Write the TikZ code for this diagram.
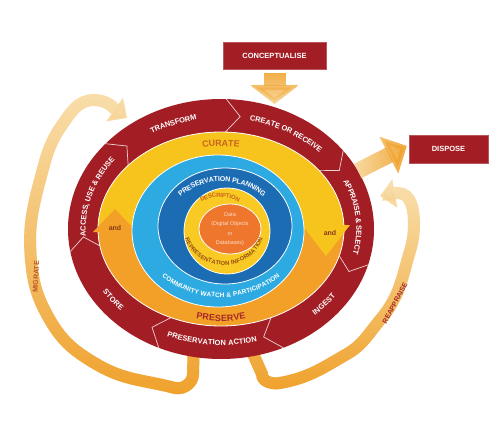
\documentclass[tikz,border=0pt]{standalone}
\usepackage{fontspec}
\setmainfont{Liberation Sans}
\usepackage{xcolor}
\usepackage{tikz}
\usetikzlibrary{arrows.meta, positioning, shapes.geometric, decorations.text, fadings}

\definecolor{dccred}{RGB}{163,30,36}
\definecolor{curateyellow}{RGB}{247,196,30}
\definecolor{preserveorange}{RGB}{242,160,40}
\definecolor{watchblue}{RGB}{45,170,225}
\definecolor{planblue}{RGB}{28,108,180}
\definecolor{descyellow}{RGB}{248,202,35}
\definecolor{dataorange}{RGB}{238,118,45}
\definecolor{paleflow}{RGB}{249,222,170}
\definecolor{flow}{RGB}{240,162,45}
\definecolor{curatetext}{RGB}{200,100,30}
\definecolor{preservetext}{RGB}{165,40,40}
\definecolor{andtext}{RGB}{140,55,25}
\definecolor{reprtext}{RGB}{150,75,20}
\definecolor{datatext}{RGB}{252,222,200}
\definecolor{migratetext}{RGB}{185,85,35}

\newcommand{\lblfont}{\fontsize{7.5}{9}\selectfont\bfseries}

\begin{document}
\begin{tikzpicture}[
    x=1pt, y=1pt,
    stagebox/.style={rectangle, fill=dccred, draw=dccred!75!white, line width=0.6pt, minimum width=103pt, minimum height=27pt, text=white, font=\lblfont},
    ringline/.style={draw=white, line width=0.8pt},
    chevron/.style={draw=white!80!dccred, line width=0.7pt},
    flowband/.style={line width=12pt, -{Triangle[width=28pt, length=15pt]}},
    blockarrow/.style={-{Triangle[width=48pt, length=19pt]}},
    ringlabel/.style={decorate, decoration={text along path, text align=center, raise=-2.7pt}},
    andlabel/.style={text=andtext, font=\fontsize{7}{8}\selectfont\bfseries, inner sep=0pt},
    looplabel/.style={font=\fontsize{7}{8}\selectfont\bfseries, inner sep=0pt},
  ]
    \fill[white] (0,0) rectangle (501,440);
    \useasboundingbox (0,0) rectangle (501,440);

    % Nodes
    \node[ellipse, minimum width=306pt, minimum height=260pt, inner sep=0pt, outer sep=0pt] (lifecycle) at (221,211) {};
    \node[stagebox] (conceptualise) at (274.5,384.5) {CONCEPTUALISE};
    \node[stagebox, minimum width=79pt, minimum height=28pt] (dispose) at (448.5,291) {DISPOSE};

    % Migrate and reappraise loops
    \draw[flowband, paleflow, postaction={draw, flow, path fading=north}]
      ([yshift=14pt]lifecycle.-102) -- (193,66) to[out=-90,in=-10] (175,52)
      to[out=165,in=-30] (98,75) to[out=150,in=-60] (50,120) to[out=120,in=-85] (31,180)
      to[out=95,in=-105] (40,260) to[out=75,in=-125] (62,315) to[out=55,in=180] (94,340)
      to[out=0,in=145] (127,322);
    \draw[flowband, paleflow, postaction={draw, flow, path fading=north}]
      ([yshift=14pt]lifecycle.-78) -- (262,66) to[out=-90,in=-170] (280,57)
      to[out=10,in=-150] (347,86) to[out=30,in=-130] (380,120) to[out=50,in=-105] (406,175)
      to[out=75,in=-90] (414,215) to[out=90,in=0] (398,247) to[out=180,in=10] (380,244);
    \node[looplabel, text=migratetext, rotate=87] (migratelbl) at (36,163) {MIGRATE};
    \node[looplabel, text=preservetext, rotate=62] (reappraiselbl) at (395,137) {REAPPRAISE};

    % Lifecycle ring
    \fill[dccred] (lifecycle.center) ellipse [x radius=153pt, y radius=130pt];

    \begin{scope}[shift={(lifecycle.center)}]
      \foreach \ang in {88,37,-16,-66,-114,-170,139}
        \draw[chevron] (\ang:153pt and 130pt) -- ({\ang-6}:138pt and 113.5pt) -- (\ang:123pt and 97pt);

      % curate / preserve ring
      \fill[curateyellow] (123pt,0) arc[start angle=0, end angle=180, x radius=123pt, y radius=97pt] -- cycle;
      \fill[preserveorange] (-123pt,0) arc[start angle=180, end angle=360, x radius=123pt, y radius=97pt] -- cycle;
      \draw[ringline] (0,0) ellipse [x radius=123pt, y radius=97pt];
      \fill[preserveorange] (-128,-3) -- (-84,-3) -- (-106,20) -- cycle;
      \fill[curateyellow] (81,4) -- (129,4) -- (105,-27) -- cycle;
      \node[andlabel] (andleft) at (-106,1) {and};
      \node[andlabel] (andright) at (109,-4) {and};

      % inner rings
      \fill[watchblue, ringline] (-3,-2) ellipse [x radius=86pt, y radius=76pt];
      \fill[planblue, ringline] (4,3) ellipse [x radius=67pt, y radius=58pt];
      \fill[descyellow, ringline] (6,-2) ellipse [x radius=43pt, y radius=43pt];
      \fill[dataorange, ringline] (9,0) ellipse [x radius=31pt, y radius=25pt];
      \node[text=datatext, align=center, font=\fontsize{5.5}{9.5}\selectfont, inner sep=0pt] (data) at (9,0)
        {Data\\(Digital Objects\\or\\Databases)};

      % stage labels
      \path[ringlabel, decoration={text={|\color{white}\lblfont|TRANSFORM}}]
        (138:138pt and 113.5pt) arc[start angle=138, end angle=84, x radius=138pt, y radius=113.5pt];
      \path[ringlabel, decoration={text={|\color{white}\lblfont|CREATE OR RECEIVE}}]
        (88:138pt and 113.5pt) arc[start angle=88, end angle=32, x radius=138pt, y radius=113.5pt];
      \path[ringlabel, decoration={text={|\color{white}\lblfont|APPRAISE {\&} SELECT}}]
        (38:138pt and 113.5pt) arc[start angle=38, end angle=-26, x radius=138pt, y radius=113.5pt];
      \path[ringlabel, decoration={text={|\color{white}\lblfont|INGEST}}]
        (-62:138pt and 113.5pt) arc[start angle=-62, end angle=-20, x radius=138pt, y radius=113.5pt];
      \path[ringlabel, decoration={text={|\color{white}\lblfont|PRESERVATION ACTION}}]
        (-126:138pt and 113.5pt) arc[start angle=-126, end angle=-62, x radius=138pt, y radius=113.5pt];
      \path[ringlabel, decoration={text={|\color{white}\lblfont|STORE}}]
        (-162:138pt and 113.5pt) arc[start angle=-162, end angle=-122, x radius=138pt, y radius=113.5pt];
      \path[ringlabel, decoration={text={|\color{white}\lblfont|ACCESS, USE {\&} REUSE}}]
        (192:138pt and 113.5pt) arc[start angle=192, end angle=134, x radius=138pt, y radius=113.5pt];

      % action labels
      \path[ringlabel, decoration={raise=-3.2pt, text={|\color{curatetext}\fontsize{9}{10}\selectfont\bfseries|CURATE}}]
        (112:104pt and 86pt) arc[start angle=112, end angle=68, x radius=104pt, y radius=86pt];
      \path[ringlabel, decoration={raise=-3.2pt, text={|\color{preservetext}\fontsize{9}{10}\selectfont\bfseries|PRESERVE}}]
        (-115:106pt and 89pt) arc[start angle=-115, end angle=-65, x radius=106pt, y radius=89pt];
      \path[ringlabel, decoration={raise=-2.3pt, text={|\color{white}\fontsize{6.5}{8}\selectfont\bfseries|COMMUNITY WATCH {\&} PARTICIPATION}}]
        (-155:79pt and 66pt) arc[start angle=-155, end angle=-25, x radius=79pt, y radius=66pt];
      \begin{scope}[shift={(1,1)}]
        \path[ringlabel, decoration={raise=-2.5pt, text={|\color{white}\fontsize{7}{8}\selectfont\bfseries|PRESERVATION PLANNING}}]
          (165:58pt and 49pt) arc[start angle=165, end angle=15, x radius=58pt, y radius=49pt];
      \end{scope}
      \begin{scope}[shift={(-1,-1)}]
        \path[ringlabel, decoration={raise=-2.2pt, text={|\color{curatetext}\fontsize{6}{7}\selectfont\bfseries|DESCRIPTION}}]
          (150:38pt and 35pt) arc[start angle=150, end angle=30, x radius=38pt, y radius=35pt];
      \end{scope}
      \begin{scope}[shift={(3,0)}]
        \path[ringlabel, decoration={raise=-2.1pt, text={|\color{reprtext}\fontsize{5.8}{7}\selectfont\bfseries|REPRESENTATION INFORMATION}}]
          (-178:38pt and 34pt) arc[start angle=-178, end angle=-2, x radius=38pt, y radius=34pt];
      \end{scope}
    \end{scope}

    % Arrows
    \draw[blockarrow, line width=22pt, shorten >=-5pt, paleflow, postaction={draw, flow, path fading=south}]
      ([yshift=-4pt]conceptualise.south) -- (conceptualise.south |- lifecycle.north);
    \draw[-{Triangle[width=40pt, length=20pt]}, line width=16pt, paleflow, postaction={draw, flow, path fading=west}]
      (lifecycle.23) -- ([shift={(-2pt,3pt)}]dispose.west);

\end{tikzpicture}
\end{document}
